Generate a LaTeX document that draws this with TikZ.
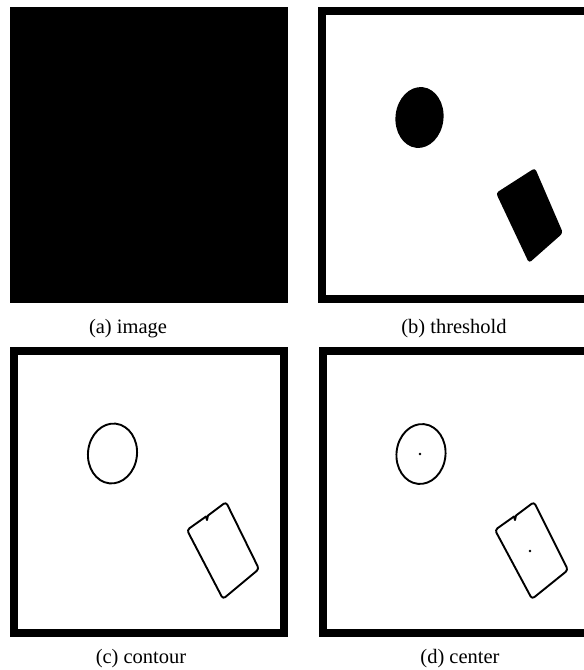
\documentclass[tikz,border=0pt]{standalone}
\usepackage{fontspec}
\setmainfont{Liberation Serif}
\begin{document}
\begin{tikzpicture}[x=1pt,y=-1pt,
  frame/.style={line width=7.8pt},
  contour/.style={line width=1.9pt,line join=round},
  centre/.style={circle,fill=black,inner sep=0pt,minimum size=2.6pt},
  caption/.style={font=\fontsize{20.5}{24}\selectfont,anchor=base}]
  \clip (0,0) rectangle (584,670);
  \fill[white] (0,0) rectangle (584,670);

  % (a) Image, dark all over
  \fill[black] (10,7) rectangle (288,303);
  \node[caption] (capa) at (128,333) {(a) image};

  % (b) Threshold
  \begin{scope}[shift={(318,7)}]
    \draw[frame] (3.9,3.9) rectangle (274.1,292.1);
    \fill[rotate around={-6:(101.5,110.5)}] (101.5,110.5) ellipse (24 and 30.5);
    \fill[rounded corners=3pt] (178,186) -- (217,161) -- (245,226) -- (211,256) -- cycle;
  \end{scope}
  \node[caption] (capb) at (454,333) {(b) threshold};

  % (c) Contour
  \begin{scope}[shift={(10,347)}]
    \draw[frame] (3.9,3.9) rectangle (274.1,286.1);
    \draw[contour,rotate around={-6:(102.5,106.5)}] (102.5,106.5) ellipse (24.5 and 30);
    \draw[contour,rounded corners=3pt] (177,183) [sharp corners] -- (196,169.5) -- (197,173)
      -- (198,168.5) [rounded corners=3pt] -- (216,155) -- (249,222) -- (213,252) -- cycle;
  \end{scope}
  \node[caption] (capc) at (141,663) {(c) contour};

  % (d) Center
  \begin{scope}[shift={(319,347)}]
    \draw[frame] (3.9,3.9) rectangle (274.1,286.1);
    \draw[contour,rotate around={-6:(102,107)}] (102,107) ellipse (24.5 and 30);
    \draw[contour,rounded corners=3pt] (176,183) [sharp corners] -- (195,169.5) -- (196,173)
      -- (197,168.5) [rounded corners=3pt] -- (215,155) -- (249,223) -- (213,252) -- cycle;
    \node[centre] (cell) at (101,107) {};
    \node[centre] (crect) at (211,204) {};
  \end{scope}
  \node[caption] (capd) at (460,663) {(d) center};
\end{tikzpicture}
\end{document}
